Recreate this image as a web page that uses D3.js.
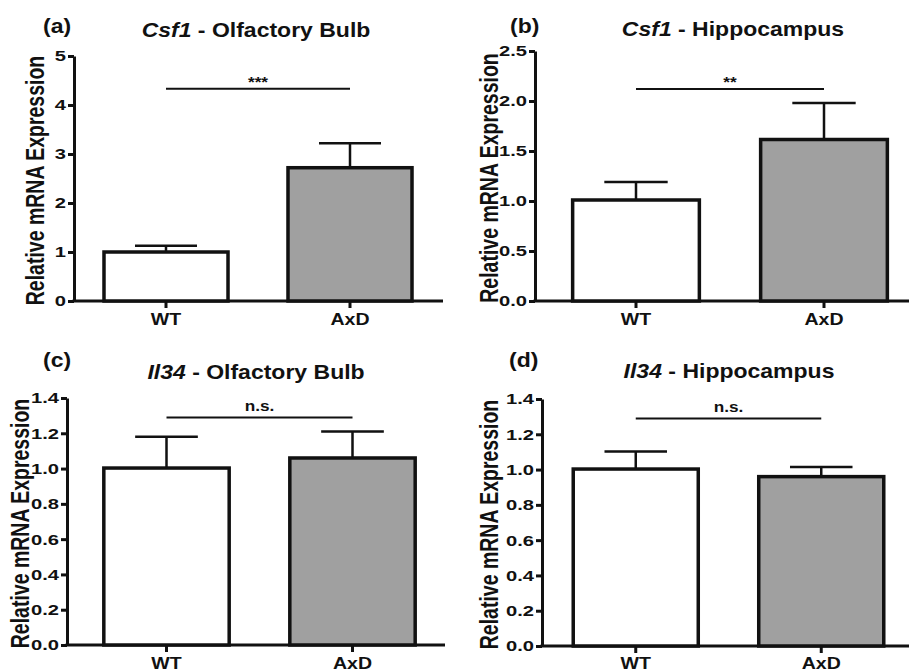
<!DOCTYPE html>
<html>
<head>
<meta charset="utf-8">
<script src="https://cdn.jsdelivr.net/npm/d3@7"></script>
<style>
  html, body { margin: 0; padding: 0; background: #fff; }
  svg { display: block; }
  text { font-family: "Liberation Sans", Arial, sans-serif; font-weight: bold; fill: #111; }
</style>
</head>
<body>
<svg id="chart" width="909" height="672"></svg>
<script>
// ─── Data ────────────────────────────────────────────────────────────────────

const categories   = ['WT', 'AxD'];
const panelLetters = ['(a)', '(b)', '(c)', '(d)'];
const genes        = ['Csf1', 'Csf1', 'Il34', 'Il34'];
const regions      = ['Olfactory Bulb', 'Hippocampus', 'Olfactory Bulb', 'Hippocampus'];

// mean relative expression per panel [WT, AxD]
const means = [
  [1.00, 2.72],
  [1.01, 1.615],
  [1.003, 1.06],
  [1.003, 0.96],
];
// upper error (SEM) per panel [WT, AxD]
const sems = [
  [0.13, 0.50],
  [0.18, 0.365],
  [0.177, 0.15],
  [0.10, 0.054],
];

const yMax        = [5, 2.5, 1.4, 1.4];
const yStep       = [1, 0.5, 0.2, 0.2];
const tickFormats = ['d', '.1f', '.1f', '.1f'];
const sigLabels   = ['***', '**', 'n.s.', 'n.s.'];
const sigLevel    = [4.33, 2.12, 1.29, 1.29];

// ─── Layout ──────────────────────────────────────────────────────────────────

// the source figure is stretched horizontally, more for the small axis text
const SX_TEXT = 1.15;
const SX_AXIS = 1.3;
const barFill = ['#ffffff', '#a0a0a0'];

const layout = [
  { axisX: 74,  top: 56,  bottom: 301, band: [74, 442],     xEnd: 443, titleX: 256, titleY: 37,  letterX: 43,  letterY: 33,  labelX: 44,  catY: 325 },
  { axisX: 535, top: 51,  bottom: 301, band: [542, 918],    xEnd: 912, titleX: 733, titleY: 36,  letterX: 510, letterY: 33,  labelX: 498, catY: 325 },
  { axisX: 67,  top: 398, bottom: 645, band: [73.5, 445.5], xEnd: 445, titleX: 256, titleY: 379, letterX: 43,  letterY: 367, labelX: 29,  catY: 669 },
  { axisX: 542, top: 399, bottom: 646, band: [543, 914],    xEnd: 912, titleX: 729, titleY: 378, letterX: 509, letterY: 367, labelX: 498, catY: 669 },
];

const svg = d3.select('#chart');

// group placed at (x, y) and stretched horizontally
function stretched(parent, x, y, sx = SX_TEXT) {
  return parent.append('g').attr('transform', `translate(${x},${y}) scale(${sx},1)`);
}

layout.forEach((L, i) => {
  const g = svg.append('g');

  const x = d3.scaleBand()
    .domain(categories)
    .range(L.band)
    .paddingInner(0.326)
    .paddingOuter(0.163);

  const y = d3.scaleLinear()
    .domain([0, yMax[i]])
    .range([L.bottom, L.top]);

  // ─── Y axis ────────────────────────────────────────────────────────────────
  const ticks = d3.range(0, yMax[i] + 1e-9, yStep[i]);
  const yAxis = g.append('g')
    .attr('transform', `translate(${L.axisX},0)`)
    .call(d3.axisLeft(y)
      .tickValues(ticks)
      .tickFormat(d3.format(tickFormats[i]))
      .tickSize(6)
      .tickSizeOuter(0)
      .tickPadding(2));
  yAxis.select('.domain').attr('stroke', '#111').attr('stroke-width', 3);
  yAxis.selectAll('.tick line').attr('stroke', '#111').attr('stroke-width', 3);
  yAxis.selectAll('.tick text')
    .attr('font-size', 15.5)
    .attr('font-family', null)
    .attr('fill', '#111')
    .attr('transform', `scale(${SX_AXIS},1)`)
    .attr('x', -8 / SX_AXIS);

  // ─── X axis ────────────────────────────────────────────────────────────────
  g.append('line')
    .attr('x1', L.axisX - 1.5).attr('x2', L.xEnd)
    .attr('y1', L.bottom).attr('y2', L.bottom)
    .attr('stroke', '#111').attr('stroke-width', 3);

  const xAxis = g.append('g')
    .attr('transform', `translate(0,${L.bottom})`)
    .call(d3.axisBottom(x).tickSize(7).tickSizeOuter(0));
  xAxis.select('.domain').remove();
  xAxis.selectAll('.tick line').attr('stroke', '#111').attr('stroke-width', 3);
  xAxis.selectAll('.tick text').remove();

  categories.forEach(c => {
    stretched(g, x(c) + x.bandwidth() / 2, L.catY)
      .append('text')
      .attr('text-anchor', 'middle')
      .attr('font-size', 17)
      .text(c);
  });

  // ─── Bars ──────────────────────────────────────────────────────────────────
  const rows = categories.map((c, j) => ({ c, v: means[i][j], e: sems[i][j], fill: barFill[j] }));

  const capW = x.bandwidth() * 0.5;
  g.selectAll('.err')
    .data(rows)
    .join('path')
    .attr('class', 'err')
    .attr('fill', 'none')
    .attr('stroke', '#111')
    .attr('stroke-width', 2.5)
    .attr('d', d => {
      const cx = x(d.c) + x.bandwidth() / 2;
      return `M${cx},${y(d.v)}V${y(d.v + d.e)}M${cx - capW / 2},${y(d.v + d.e)}H${cx + capW / 2}`;
    });

  g.selectAll('.bar')
    .data(rows)
    .join('rect')
    .attr('class', 'bar')
    .attr('x', d => x(d.c))
    .attr('y', d => y(d.v))
    .attr('width', x.bandwidth())
    .attr('height', d => L.bottom - y(d.v))
    .attr('fill', d => d.fill)
    .attr('stroke', '#111')
    .attr('stroke-width', 3.5);

  // ─── Significance ──────────────────────────────────────────────────────────
  const c0 = x(categories[0]) + x.bandwidth() / 2;
  const c1 = x(categories[1]) + x.bandwidth() / 2;
  const sy = y(sigLevel[i]);
  g.append('line')
    .attr('x1', c0).attr('x2', c1)
    .attr('y1', sy).attr('y2', sy)
    .attr('stroke', '#111').attr('stroke-width', 2);

  const isStars = sigLabels[i].startsWith('*');
  stretched(g, (c0 + c1) / 2, isStars ? sy - 2 : sy - 6)
    .append('text')
    .attr('text-anchor', 'middle')
    .attr('font-size', 15)
    .attr('font-weight', isStars ? 'normal' : 'bold')
    .attr('fill', isStars ? '#333' : '#111')
    .text(sigLabels[i]);

  // ─── Titles & labels ───────────────────────────────────────────────────────
  const title = stretched(g, L.titleX, L.titleY)
    .append('text')
    .attr('text-anchor', 'middle')
    .attr('font-size', 20);
  title.append('tspan').attr('font-style', 'italic').text(genes[i]);
  title.append('tspan').text(' - ' + regions[i]);

  stretched(g, L.letterX, L.letterY)
    .append('text')
    .attr('font-size', 20)
    .text(panelLetters[i]);

  stretched(g, L.labelX, (L.top + L.bottom) / 2 + 2, SX_AXIS)
    .append('text')
    .attr('transform', 'rotate(-90)')
    .attr('text-anchor', 'middle')
    .attr('font-size', 19.5)
    .text('Relative mRNA Expression');
});
</script>
</body>
</html>
